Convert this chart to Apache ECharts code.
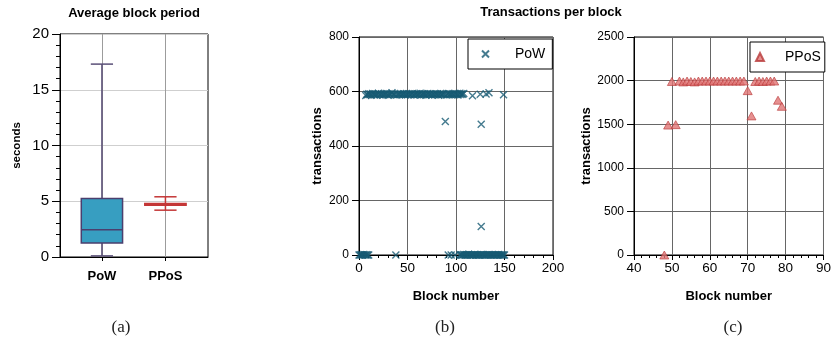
<!DOCTYPE html>
<html><head><meta charset="utf-8">
<script src="https://cdn.jsdelivr.net/npm/echarts@6/dist/echarts.min.js"></script>
<style>html,body{margin:0;padding:0;background:#fff}#c{width:834px;height:354px}</style>
</head><body><div id="c"></div>
<script>
// ---- (a) Average block period (box plot) ----
const boxCategories = ['PoW', 'PPoS'];
const boxMin    = [0.1, 4.2];
const boxQ1     = [1.25, 4.65];
const boxMedian = [2.45, 4.72];
const boxQ3     = [5.25, 4.8];
const boxMax    = [17.3, 5.4];

// ---- (b) PoW transactions per block ----
const powBandX = [7,8,9,10,11,12,13,14,15,16,17,18,19,20,21,22,23,24,25,26,27,28,29,30,31,32,33,34,35,36,37,39,40,41,42,43,44,45,46,47,48,49,50,51,52,53,54,55,56,57,58,59,60,61,62,63,64,65,66,67,68,69,70,71,72,73,74,75,76,77,78,79,80,81,82,83,84,85,86,87,88,90,91,92,93,94,95,96,97,98,99,100,101,102,103,104,105,106,107,108,117,125,131,134,149];
const powBandY = [585,590,588,592,589,591,587,593,590,588,591,586,590,594,589,588,592,590,587,591,589,593,590,586,592,588,591,595,589,590,588,587,590,591,589,593,588,590,592,590,587,591,589,592,590,588,591,593,589,587,590,592,588,591,589,594,587,590,592,589,591,586,590,593,588,590,592,587,591,590,588,592,589,591,586,590,593,588,590,592,589,587,590,593,588,591,589,592,590,588,593,589,591,587,590,594,589,592,590,593,584,590,591,595,588];
const powOutlierX = [89, 126, 126];
const powOutlierY = [490, 480, 105];
const powZeroX = [0,1,2,3,4,5,6,7,8,9,10,38,92,95,99,104,105,106,107,108,109,110,111,112,113,114,115,116,117,118,119,120,121,122,123,124,125,126,127,128,129,130,131,132,133,134,135,136,137,138,139,140,141,142,143,144,145,146,147,148,149,150];
const powZeroY = [0,0,1,0,0,2,0,0,1,0,0,0,0,0,0,0,1,0,0,2,0,0,1,0,3,0,0,1,0,0,2,0,0,1,0,0,0,2,0,1,0,0,0,1,0,2,0,0,1,0,0,0,1,0,0,2,0,0,1,0,0,0];

// ---- (c) PPoS transactions per block ----
const pposX = [48,49,50,51,52,53,54,55,56,57,58,59,60,61,62,63,64,65,66,67,68,69,70,71,72,73,74,75,76,77,78,79];
const pposY = [0,1490,1990,1495,1995,1985,1995,1990,1985,1995,1995,1995,1995,1995,1995,1995,1995,1995,1995,1995,1995,1995,1885,1595,1990,1995,1990,1995,1995,1995,1775,1705];

// ---- tick values ----
const boxTicks = [1, 2];

const FONT = '"Liberation Sans", Arial, Helvetica, sans-serif';
const chart = echarts.init(document.getElementById('c'), null, {renderer: 'canvas'});

const boxData = boxCategories.map((c, i) => [i + 1, boxMin[i], boxQ1[i], boxMedian[i], boxQ3[i], boxMax[i]]);
const boxStyles = [
  {whisker: '#5b5078', fill: '#379ec1', stroke: '#4b3f6e'},
  {whisker: '#c43636', fill: '#c43636', stroke: '#c43636'}
];

const zip = (xs, ys) => xs.map((x, i) => [x, ys[i]]);
const powData = zip(powBandX, powBandY).concat(zip(powOutlierX, powOutlierY), zip(powZeroX, powZeroY));
const pposData = zip(pposX, pposY);

const axisLineBlack = {show: true, onZero: false, lineStyle: {color: '#000', width: 1}};
const labelBase = {color: '#000', fontFamily: FONT};
const nameBase = {color: '#000', fontFamily: FONT, fontWeight: 'bold', fontSize: 13};
const plain = v => String(v);

const option = {
  animation: false,
  backgroundColor: '#fff',
  grid: [
    {left: 60, top: 34, width: 148, height: 223, show: true, borderColor: '#000', borderWidth: 1, containLabel: false},
    {left: 359, top: 37, width: 194, height: 218, show: true, borderColor: '#000', borderWidth: 1, containLabel: false},
    {left: 634, top: 37, width: 194, height: 218, show: true, borderColor: '#000', borderWidth: 1, containLabel: false}
  ],
  xAxis: [
    {gridIndex: 0, type: 'value', min: 0.34, max: 2.67,
     axisLine: axisLineBlack,
     axisTick: {show: true, customValues: boxTicks, length: 4, lineStyle: {color: '#000'}},
     axisLabel: Object.assign({}, labelBase, {customValues: boxTicks, formatter: v => boxCategories[Math.round(v) - 1] || '', fontWeight: 'bold', fontSize: 13, margin: 13}),
     splitLine: {show: true, lineStyle: {color: '#9c9c9c', width: 1}}},
    {gridIndex: 1, type: 'value', min: 0, max: 200, interval: 50,
     name: 'Block number', nameLocation: 'middle', nameGap: 35, nameTextStyle: nameBase,
     axisLine: axisLineBlack,
     axisTick: {show: true, length: 5, lineStyle: {color: '#000'}},
     minorTick: {show: true, splitNumber: 5, length: 3, lineStyle: {color: '#000'}},
     axisLabel: Object.assign({}, labelBase, {fontSize: 13.5, margin: 6, formatter: plain}),
     splitLine: {show: true, lineStyle: {color: '#666', width: 1}}},
    {gridIndex: 2, type: 'value', min: 40, max: 90, interval: 10,
     name: 'Block number', nameLocation: 'middle', nameGap: 35, nameTextStyle: nameBase,
     axisLine: axisLineBlack,
     axisTick: {show: true, length: 5, lineStyle: {color: '#000'}},
     minorTick: {show: true, splitNumber: 5, length: 3, lineStyle: {color: '#000'}},
     axisLabel: Object.assign({}, labelBase, {fontSize: 13.5, margin: 6, formatter: plain}),
     splitLine: {show: true, lineStyle: {color: '#666', width: 1}}}
  ],
  yAxis: [
    {gridIndex: 0, type: 'value', min: 0, max: 20, interval: 5,
     name: 'seconds', nameLocation: 'middle', nameGap: 37, nameTextStyle: Object.assign({}, nameBase, {fontSize: 11.5}),
     axisLine: axisLineBlack,
     axisTick: {show: true, length: 8, lineStyle: {color: '#000'}},
     minorTick: {show: true, splitNumber: 5, length: 4, lineStyle: {color: '#000'}},
     axisLabel: Object.assign({}, labelBase, {fontSize: 15, margin: 11, formatter: plain}),
     splitLine: {show: true, lineStyle: {color: '#cfcfcf', width: 1}}},
    {gridIndex: 1, type: 'value', min: 0, max: 800, interval: 200,
     name: 'transactions', nameLocation: 'middle', nameGap: 35, nameTextStyle: nameBase,
     axisLine: axisLineBlack,
     axisTick: {show: true, length: 7, lineStyle: {color: '#000'}},
     axisLabel: Object.assign({}, labelBase, {fontSize: 12, margin: 10, formatter: plain}),
     splitLine: {show: true, lineStyle: {color: '#666', width: 1}}},
    {gridIndex: 2, type: 'value', min: 0, max: 2500, interval: 500,
     name: 'transactions', nameLocation: 'middle', nameGap: 41, nameTextStyle: nameBase,
     axisLine: axisLineBlack,
     axisTick: {show: true, length: 7, lineStyle: {color: '#000'}},
     axisLabel: Object.assign({}, labelBase, {fontSize: 12, margin: 10, formatter: plain}),
     splitLine: {show: true, lineStyle: {color: '#666', width: 1}}}
  ],
  legend: [
    {data: ['PoW'], left: 468, top: 39, orient: 'vertical', backgroundColor: '#fff',
     borderColor: '#000', borderWidth: 1, borderRadius: 0, padding: [8, 7, 8, 13],
     itemWidth: 7, itemHeight: 7,
     textStyle: {color: '#000', fontFamily: FONT, fontSize: 14, padding: [0, 0, 0, 21]}},
    {data: ['PPoS'], left: 750, top: 42, orient: 'vertical', backgroundColor: '#fff',
     borderColor: '#000', borderWidth: 1, borderRadius: 0, padding: [8, 4, 8, 5],
     itemWidth: 8, itemHeight: 8,
     textStyle: {color: '#000', fontFamily: FONT, fontSize: 14, padding: [0, 0, 0, 16]}}
  ],
  graphic: [
    {type: 'text', x: 134, y: 13, style: {text: 'Average block period', fill: '#000', font: 'bold 13px ' + FONT, textAlign: 'center', textVerticalAlign: 'middle'}},
    {type: 'text', x: 551, y: 12, style: {text: 'Transactions per block', fill: '#000', font: 'bold 13px ' + FONT, textAlign: 'center', textVerticalAlign: 'middle'}},
    {type: 'text', x: 121, y: 328, style: {text: '(a)', fill: '#222', font: '17px "Liberation Serif", "DejaVu Serif", serif', textAlign: 'center', textVerticalAlign: 'middle'}},
    {type: 'text', x: 445, y: 328, style: {text: '(b)', fill: '#222', font: '17px "Liberation Serif", "DejaVu Serif", serif', textAlign: 'center', textVerticalAlign: 'middle'}},
    {type: 'text', x: 733, y: 328, style: {text: '(c)', fill: '#222', font: '17px "Liberation Serif", "DejaVu Serif", serif', textAlign: 'center', textVerticalAlign: 'middle'}}
  ],
  series: [
    {name: 'box', type: 'custom', xAxisIndex: 0, yAxisIndex: 0, data: boxData,
     renderItem: function (params, api) {
       const i = params.dataIndex;
       const st = boxStyles[i];
       const x = api.value(0);
       const pLo = api.coord([x, api.value(1)]);
       const pQ1 = api.coord([x, api.value(2)]);
       const pMed = api.coord([x, api.value(3)]);
       const pQ3 = api.coord([x, api.value(4)]);
       const pHi = api.coord([x, api.value(5)]);
       const boxW = api.size([0.65, 0])[0];
       const capW = api.size([0.35, 0])[0];
       const cx = pLo[0];
       const lw = 1.5;
       return {type: 'group', children: [
         {type: 'line', shape: {x1: cx, y1: pLo[1], x2: cx, y2: pHi[1]}, style: {stroke: st.whisker, lineWidth: lw}},
         {type: 'line', shape: {x1: cx - capW / 2, y1: pHi[1], x2: cx + capW / 2, y2: pHi[1]}, style: {stroke: st.whisker, lineWidth: lw}},
         {type: 'line', shape: {x1: cx - capW / 2, y1: pLo[1], x2: cx + capW / 2, y2: pLo[1]}, style: {stroke: st.whisker, lineWidth: lw}},
         {type: 'rect', shape: {x: cx - boxW / 2, y: pQ3[1], width: boxW, height: pQ1[1] - pQ3[1]}, style: {fill: st.fill, stroke: st.stroke, lineWidth: lw}},
         {type: 'line', shape: {x1: cx - boxW / 2, y1: pMed[1], x2: cx + boxW / 2, y2: pMed[1]}, style: {stroke: st.stroke, lineWidth: lw}}
       ]};
     }},
    {name: 'PoW', type: 'scatter', xAxisIndex: 1, yAxisIndex: 1, data: powData,
     symbol: 'path://M0,0L10,10M10,0L0,10', symbolSize: 7,
     itemStyle: {color: 'rgba(0,0,0,0)', borderColor: '#175a73', borderWidth: 1.4}},
    {name: 'PPoS', type: 'scatter', xAxisIndex: 2, yAxisIndex: 2, data: pposData,
     symbol: 'triangle', symbolSize: [9, 8],
     itemStyle: {color: '#e07474', borderColor: '#b83a3a', borderWidth: 0.8}}
  ]
};
chart.setOption(option);
</script>
</body></html>
